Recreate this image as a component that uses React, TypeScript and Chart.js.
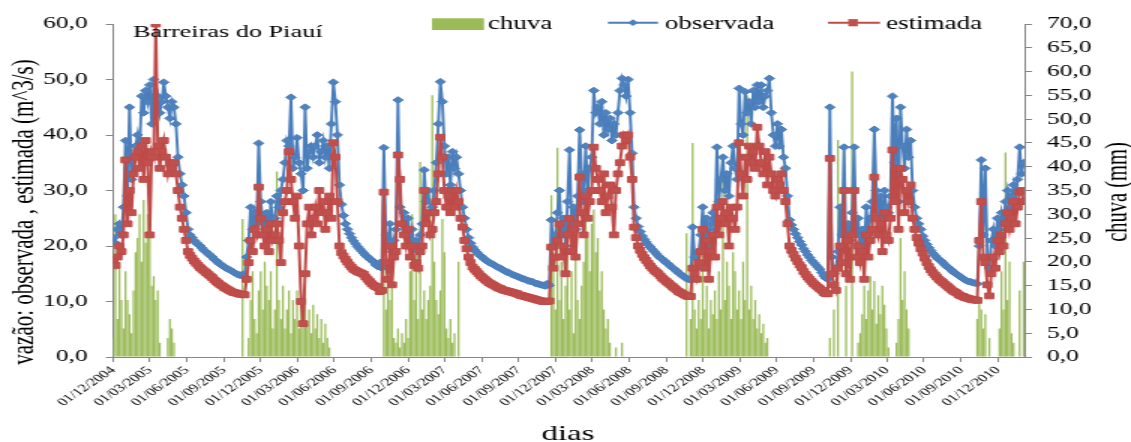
import React, { useEffect, useRef } from 'react';
import { Chart, registerables } from 'chart.js';

Chart.register(...registerables);

// ---------------- data ----------------
const START_DATE = '2004-12-01';
const STEP_DAYS = 5; // one value every 5 days, starting at START_DATE
const X_MAX_DAYS = 2257;

const quarterLabels = [
  '01/12/2004', '01/03/2005', '01/06/2005', '01/09/2005',
  '01/12/2005', '01/03/2006', '01/06/2006', '01/09/2006',
  '01/12/2006', '01/03/2007', '01/06/2007', '01/09/2007',
  '01/12/2007', '01/03/2008', '01/06/2008', '01/09/2008',
  '01/12/2008', '01/03/2009', '01/06/2009', '01/09/2009',
  '01/12/2009', '01/03/2010', '01/06/2010', '01/09/2010',
  '01/12/2010',
];

const seriesNames = ['chuva', 'observada', 'estimada'];
const placeName = 'Barreiras do Piauí';
const yTitle = 'vazão: observada , estimada (m^3/s)';
const y1Title = 'chuva (mm)';
const xTitle = 'dias';

const observada = [
  21.5, 20.5, 23, 24, 22, 27, 39, 29, 45, 32,
  36, 38, 40, 37, 47, 44, 48, 46, 49, 42,
  50, 45, 47, 44, 46, 49.5, 47, 45, 43, 46,
  45, 42, 36, 33, 31, 29, 26, 23, 22, 21.5,
  21, 20.6, 20.3, 20, 19.6, 19.2, 18.9, 18.6, 18.3, 18,
  17.6, 17.3, 17.0, 16.7, 16.5, 16.2, 16.0, 15.8, 15.6, 15.4,
  15.2, 15.0, 14.8, 14.7, 14.9, 14.5, 18, 21, 27, 23,
  26, 24, 38.5, 28, 25, 23, 26, 22, 28, 24,
  25, 29, 27, 30, 32, 35, 39, 38, 46.8, 34,
  36, 39.5, 35, 33, 30, 45, 34, 37, 38, 36,
  38, 40, 35, 37, 39, 36, 38, 34, 42, 49.5,
  46, 40, 31, 27.5, 25.5, 24, 23, 22.2, 21.5, 20.9,
  20.4, 19.9, 19.5, 19.1, 18.7, 18.3, 18.0, 17.7, 17.4, 17.1,
  16.6, 16.3, 17, 16, 37.7, 22, 20, 24, 19, 21,
  23, 46.3, 27, 24, 26, 22, 25, 21, 23, 20,
  21, 19, 22, 24, 33.7, 28, 30, 26, 27, 30,
  35, 42, 49.6, 46, 38, 33, 36, 31, 37, 34,
  36, 33, 30, 27, 25, 23, 21.5, 20.5, 19.8, 19.3,
  18.9, 18.5, 18.2, 17.9, 17.6, 17.3, 17.1, 16.9, 16.7, 16.5,
  16.3, 16.1, 15.9, 15.7, 15.5, 15.3, 15.2, 15.0, 14.8, 14.7,
  14.5, 14.4, 14.2, 14.1, 14.0, 13.8, 13.7, 13.6, 13.5, 13.3,
  13.2, 13.1, 13.0, 12.9, 12.8, 13.2, 12.9, 24.7, 20, 22,
  26, 30, 22, 25, 20, 28, 37.3, 24, 27, 23,
  29, 40.9, 33, 28, 38, 30, 34, 36, 48, 44,
  45, 42, 46, 40, 44, 41, 43, 39, 42, 40,
  44, 48, 50.2, 49, 47, 50, 44, 36.7, 27, 25,
  23.5, 22.6, 21.8, 21.2, 20.7, 20.2, 19.8, 19.4, 19.0, 18.6,
  18.2, 17.9, 17.6, 17.3, 17.0, 16.7, 16.4, 16.1, 15.8, 15.5,
  15.2, 14.9, 14.6, 14.4, 14.1, 14.0, 13.9, 23.4, 18, 16,
  19, 22, 27, 21, 25, 20, 24, 26, 23, 37.8,
  28, 32, 36, 30, 33, 29, 35, 38, 34, 32,
  48.4, 42, 40, 47.8, 44, 46, 42, 48, 45, 49,
  46, 49, 45, 47, 48, 50.2, 44, 40, 38, 42,
  38, 41, 36, 34, 29, 24.7, 23.8, 23, 22.2, 21.5,
  20.8, 20.2, 19.5, 19.0, 18.4, 17.9, 17.4, 17.0, 16.6, 16.2,
  15.8, 15.2, 14.6, 14.2, 14.0, 45, 18, 15, 16, 19,
  27, 22, 37.8, 19, 24, 21, 26, 37.8, 22, 25,
  20, 23, 19, 27, 22, 25, 28, 41, 30, 26,
  29, 25, 30, 27, 26, 29, 47, 35, 43, 28,
  45, 38, 34, 41, 36, 39, 30, 27, 25, 24,
  23, 21.8, 21, 20.3, 19.7, 19.2, 18.7, 18.3, 17.9, 17.6,
  17.3, 17.0, 16.6, 16.3, 16.0, 15.7, 15.4, 15.1, 14.9, 14.6,
  14.4, 14.1, 13.9, 13.7, 13.6, 13.5, 13.4, 13.3, 13.2, 20,
  35.5, 22, 34, 18, 16, 21, 23, 20, 25, 23,
  26, 24, 28, 30, 27, 29, 31, 28, 32, 37.8,
  33, 35,
];

const estimada = [
  17.5, 16.5, 18, 20, 19, 22, 35.5, 24, 30, 26,
  33, 36, 37, 34, 38, 32, 39, 35, 22, 37,
  36, 60, 38, 34, 37, 39, 36, 33, 35, 34,
  35, 33, 30, 27, 25, 23, 21, 19, 18.3, 17.8,
  17.3, 16.9, 16.5, 16.1, 15.8, 15.5, 15.2, 14.9, 14.6, 14.3,
  13.9, 13.6, 13.3, 13.0, 12.8, 12.5, 12.3, 12.1, 11.9, 11.7,
  11.6, 11.5, 11.4, 11.3, 11.3, 11.2, 14, 17, 21, 19,
  23, 22, 30.6, 25, 22, 20, 23, 19, 24, 21,
  22, 24, 21, 17, 26, 28, 30, 37, 32, 28,
  25, 29, 20, 10, 6, 15, 24, 27, 22, 25,
  27, 24, 30, 26, 28, 23, 26, 29, 25, 38.6,
  36, 28, 20, 18.8, 18.2, 17.6, 17.1, 16.6, 16.2, 15.8,
  15.6, 15.4, 15.2, 15.1, 14.9, 14.4, 14.0, 13.6, 13.2, 12.9,
  12.7, 12.5, 11.8, 12, 29.7, 17, 14, 20, 13, 18,
  19, 36.4, 32, 24, 22, 20, 23, 18, 20, 16.5,
  17, 16, 19, 20, 30, 24, 26, 22, 23, 26,
  28, 33, 39.6, 36, 30, 27, 29, 26, 30, 27,
  30, 28, 25, 23.4, 21, 19.5, 18, 17, 16.2, 15.8,
  15.4, 15.0, 14.6, 14.3, 14.0, 13.7, 13.4, 13.2, 13.0, 12.8,
  12.6, 12.4, 12.3, 12.1, 12.0, 11.9, 11.8, 11.7, 11.6, 11.5,
  11.4, 11.2, 11.1, 11.0, 10.9, 10.8, 10.7, 10.6, 10.5, 10.4,
  10.3, 10.2, 10.1, 10.0, 10.0, 10.0, 10.1, 19.8, 16, 18,
  21, 24, 18, 20, 15, 22, 25, 19, 23, 18,
  24, 32.4, 26, 22, 29, 25, 28, 30, 37.8, 34,
  32, 30, 28, 33, 26, 29, 31, 27, 22, 30,
  33, 35, 38, 40, 39, 40, 36, 32, 23.4, 21.5,
  20, 19.2, 18.5, 17.9, 17.4, 16.9, 16.4, 16.0, 15.6, 15.3,
  15.0, 14.6, 14.2, 13.9, 13.6, 13.3, 13.0, 12.7, 12.4, 12.1,
  11.8, 11.6, 11.4, 11.2, 11.0, 10.9, 10.9, 16, 15, 14,
  17, 19, 23, 16, 21, 14, 19, 22, 18, 27,
  22, 25, 28, 24, 26, 20, 27, 25, 23, 27,
  38.6, 33, 29, 36, 32, 38, 35, 37, 34, 41.4,
  38, 35, 33, 37, 31, 36, 33, 30, 29, 32,
  31, 33, 30, 28, 24, 20, 19.2, 18.5, 17.8, 17.2,
  16.6, 16.1, 15.4, 14.9, 14.4, 14.0, 13.6, 13.2, 12.9, 12.6,
  12.3, 12.0, 11.6, 11.4, 11.4, 35.8, 15, 13, 12, 16,
  20, 17, 30, 15, 21, 14, 22, 30, 18, 20,
  17, 19, 14, 22, 18, 21, 23, 32.4, 25, 22,
  24, 19, 26, 22, 21, 25, 37.3, 28, 34, 23,
  34, 32, 26, 30, 28, 31, 25, 23, 21.5, 20.5,
  19.5, 18.7, 17.8, 17.0, 16.3, 15.7, 15.2, 14.8, 14.4, 14.0,
  13.7, 13.4, 13.1, 12.8, 12.5, 12.2, 11.9, 11.7, 11.5, 11.2,
  11.0, 10.9, 10.7, 10.6, 10.5, 10.4, 10.3, 10.3, 10.2, 21,
  28, 18, 17, 13, 11, 15, 18, 16, 21, 19,
  22, 20, 24, 26, 23, 25, 28, 24, 27, 29.7,
  30, 28,
];

const chuva = [
  4, 30, 8, 20, 12, 6, 18, 12, 9, 5,
  14, 22, 25, 30, 20, 33, 24, 30, 35, 15,
  17, 12, 14, 3, 0, 0, 0, 4, 8, 6,
  3, 0, 0, 0, 0, 0, 0, 0, 0, 0,
  0, 0, 0, 0, 0, 0, 0, 0, 0, 0,
  0, 0, 0, 0, 0, 0, 0, 0, 0, 0,
  0, 0, 0, 0, 29, 0, 0, 4, 12, 18,
  8, 5, 14, 18, 10, 20, 15, 12, 18, 6,
  10, 39, 12, 8, 15, 6, 10, 14, 5, 12,
  8, 14, 6, 12, 9, 15, 7, 10, 5, 11,
  6, 9, 4, 8, 3, 7, 4, 2, 0, 0,
  0, 0, 0, 0, 0, 0, 0, 0, 0, 0,
  0, 0, 0, 0, 0, 0, 0, 0, 0, 0,
  0, 0, 0, 0, 25, 10, 20, 12, 18, 4,
  3, 6, 2, 5, 3, 8, 4, 18, 30, 12,
  22, 8, 41, 10, 14, 8, 12, 15, 55, 20,
  12, 9, 14, 29, 22, 6, 4, 8, 3, 5,
  0, 20, 0, 0, 0, 0, 0, 0, 0, 0,
  0, 0, 0, 0, 0, 0, 0, 0, 0, 0,
  0, 0, 0, 0, 0, 0, 0, 0, 0, 0,
  0, 0, 0, 0, 0, 0, 0, 0, 0, 0,
  0, 0, 0, 0, 0, 0, 0, 34, 18, 10,
  44, 12, 20, 8, 15, 25, 10, 18, 5, 22,
  12, 8, 15, 20, 30, 25, 18, 28, 31, 22,
  25, 14, 18, 10, 6, 8, 3, 0, 0, 2,
  0, 0, 3, 0, 0, 0, 0, 0, 0, 0,
  0, 0, 0, 0, 0, 0, 0, 0, 0, 0,
  0, 0, 0, 0, 0, 0, 0, 0, 0, 0,
  0, 0, 0, 0, 26, 0, 8, 45, 10, 6,
  12, 8, 30, 10, 15, 6, 12, 9, 14, 8,
  18, 10, 41, 12, 20, 15, 8, 22, 18, 10,
  14, 8, 20, 12, 55, 10, 15, 8, 12, 6,
  9, 5, 7, 3, 4, 0, 0, 0, 0, 0,
  0, 0, 0, 0, 0, 0, 0, 0, 0, 0,
  0, 0, 0, 0, 0, 0, 0, 0, 0, 0,
  0, 0, 0, 0, 0, 4, 0, 10, 0, 45.6,
  0, 0, 0, 15, 0, 0, 60, 0, 0, 3,
  5, 9, 15, 8, 14, 17, 10, 16, 7, 13,
  9, 15, 11, 6, 2, 0, 0, 0, 3, 8,
  25, 12, 18, 10, 6, 0, 0, 0, 0, 0,
  0, 0, 0, 0, 0, 0, 0, 0, 0, 0,
  0, 0, 0, 0, 0, 0, 0, 0, 0, 0,
  0, 0, 0, 0, 0, 0, 0, 0, 8, 12,
  10, 6, 9, 0, 4, 0, 0, 0, 0, 6,
  18, 10, 43, 12, 20, 5, 3, 0, 0, 14,
  0, 20,
];

// ---------------- styles ----------------
const FONT = "'Liberation Serif', 'Times New Roman', Times, serif";
const RAIN_COLOR = '#9BBB59';
const OBS_LINE = '#4A7EBB';
const OBS_FILL = '#4F81BD';
const EST_LINE = '#BE4B48';
const EST_FILL = '#C0504D';
const AXIS_COLOR = '#868686';
// canvas drawn at 2/3 width and stretched horizontally (the reference is a stretched picture)
const CANVAS_W = 754;
const CANVAS_H = 442;
const PAGE_W = 1131;

const fmt = (v: number) => Number(v).toFixed(1).replace('.', ',');

const parseDay = (s: string) => {
  const [d, m, y] = s.split('/').map(Number);
  return Date.UTC(y, m - 1, d);
};
const startMs = Date.parse(START_DATE + 'T00:00:00Z');
const quarterDays = quarterLabels.map((s) => Math.round((parseDay(s) - startMs) / 86400000));
const dayOf = (i: number) => i * STEP_DAYS;

const decorPlugin = {
  id: 'decor',
  afterDraw(chart: any) {
    const ctx: CanvasRenderingContext2D = chart.ctx;
    ctx.save();
    ctx.fillStyle = '#000';
    ctx.textAlign = 'left';
    ctx.textBaseline = 'alphabetic';
    ctx.font = `17.5px ${FONT}`;
    ctx.fillText(placeName, 88.7, 37.3);

    // legend
    ctx.font = `18px ${FONT}`;
    ctx.fillStyle = RAIN_COLOR;
    ctx.fillRect(288, 18.3, 34.7, 11.7);
    ctx.fillStyle = '#000';
    ctx.fillText(seriesNames[0], 325.3, 29.3);

    const ly = 22.7;
    ctx.lineWidth = 1.9;
    ctx.strokeStyle = OBS_LINE;
    ctx.beginPath();
    ctx.moveTo(405.3, ly);
    ctx.lineTo(438.7, ly);
    ctx.stroke();
    ctx.fillStyle = OBS_FILL;
    ctx.beginPath();
    ctx.moveTo(422 - 3.4, ly);
    ctx.lineTo(422, ly - 3.4);
    ctx.lineTo(422 + 3.4, ly);
    ctx.lineTo(422, ly + 3.4);
    ctx.closePath();
    ctx.fill();
    ctx.fillStyle = '#000';
    ctx.fillText(seriesNames[1], 443.3, 29.3);

    ctx.strokeStyle = EST_LINE;
    ctx.beginPath();
    ctx.moveTo(552, ly);
    ctx.lineTo(586.7, ly);
    ctx.stroke();
    ctx.fillStyle = EST_FILL;
    ctx.fillRect(568.7 - 3.2, ly - 3.6, 6.4, 7.2);
    ctx.fillStyle = '#000';
    ctx.fillText(seriesNames[2], 590.7, 29.3);

    // axis titles
    ctx.textAlign = 'center';
    ctx.textBaseline = 'middle';
    ctx.font = `21px ${FONT}`;
    ctx.save();
    ctx.translate(16.7, 212);
    ctx.rotate(-Math.PI / 2);
    ctx.fillText(yTitle, 0, 0);
    ctx.restore();
    ctx.font = `20.5px ${FONT}`;
    ctx.save();
    ctx.translate(745.3, 192);
    ctx.rotate(-Math.PI / 2);
    ctx.fillText(y1Title, 0, 0);
    ctx.restore();

    ctx.font = `22px ${FONT}`;
    ctx.textBaseline = 'alphabetic';
    ctx.fillText(xTitle, 378.7, 440);
    ctx.restore();
  },
};

export default function App() {
  const ref = useRef<HTMLCanvasElement | null>(null);

  useEffect(() => {
    const canvas = ref.current;
    if (!canvas) return;
    const chart = new Chart(canvas, {
      type: 'bar',
      data: {
        datasets: [
          {
            type: 'bar',
            label: seriesNames[0],
            data: chuva.map((v, i) => ({ x: dayOf(i), y: v })),
            yAxisID: 'y1',
            xAxisID: 'x',
            backgroundColor: RAIN_COLOR,
            borderWidth: 0,
            barPercentage: 0.95,
            categoryPercentage: 1,
            order: 3,
          } as any,
          {
            type: 'line',
            label: seriesNames[1],
            data: observada.map((v, i) => ({ x: dayOf(i), y: v })),
            yAxisID: 'y',
            xAxisID: 'x',
            borderColor: OBS_LINE,
            backgroundColor: OBS_FILL,
            borderWidth: 1.9,
            tension: 0,
            pointStyle: 'rectRot',
            pointRadius: 3.4,
            pointBackgroundColor: OBS_FILL,
            pointBorderColor: OBS_LINE,
            pointBorderWidth: 1,
            order: 2,
          } as any,
          {
            type: 'line',
            label: seriesNames[2],
            data: estimada.map((v, i) => ({ x: dayOf(i), y: v })),
            yAxisID: 'y',
            xAxisID: 'x',
            borderColor: EST_LINE,
            backgroundColor: EST_FILL,
            borderWidth: 2,
            tension: 0,
            pointStyle: 'rect',
            pointRadius: 4.1,
            pointBackgroundColor: EST_FILL,
            pointBorderColor: EST_LINE,
            pointBorderWidth: 1,
            order: 1,
          } as any,
        ],
      },
      options: {
        animation: false,
        responsive: false,
        devicePixelRatio: 1,
        events: [],
        layout: { padding: { left: 0, right: 0, top: 24, bottom: 0 } },
        plugins: {
          legend: { display: false },
          tooltip: { enabled: false },
          title: { display: false },
        },
        scales: {
          x: {
            type: 'linear',
            min: 0,
            max: X_MAX_DAYS,
            bounds: 'data',
            offset: false,
            afterBuildTicks: (scale: any) => {
              scale.ticks = quarterDays.map((v) => ({ value: v }));
            },
            afterFit: (scale: any) => {
              scale.height = CANVAS_H - 357;
            },
            ticks: {
              autoSkip: false,
              maxRotation: 45,
              minRotation: 45,
              padding: 2,
              color: '#000',
              font: { family: FONT, size: 11 },
              callback: (_v: any, i: number) => quarterLabels[i],
            },
            grid: {
              drawOnChartArea: false,
              drawTicks: true,
              tickLength: 5,
              color: AXIS_COLOR,
              offset: false,
            },
            border: { display: true, color: AXIS_COLOR, width: 1 },
          },
          y: {
            type: 'linear',
            position: 'left',
            min: 0,
            max: 60,
            afterFit: (scale: any) => {
              scale.width = 75.6;
            },
            ticks: {
              stepSize: 10,
              autoSkip: false,
              padding: 12,
              color: '#000',
              font: { family: FONT, size: 17 },
              callback: (v: any) => fmt(v),
            },
            grid: { drawOnChartArea: false, drawTicks: true, tickLength: 5, color: AXIS_COLOR },
            border: { display: true, color: AXIS_COLOR, width: 1 },
          },
          y1: {
            type: 'linear',
            position: 'right',
            min: 0,
            max: 70,
            afterFit: (scale: any) => {
              scale.width = CANVAS_W - 683;
            },
            ticks: {
              stepSize: 5,
              autoSkip: false,
              padding: 10,
              color: '#000',
              font: { family: FONT, size: 17 },
              callback: (v: any) => fmt(v),
            },
            grid: { drawOnChartArea: false, drawTicks: true, tickLength: 5, color: AXIS_COLOR },
            border: { display: true, color: AXIS_COLOR, width: 1 },
          },
        },
      } as any,
      plugins: [decorPlugin],
    });
    return () => chart.destroy();
  }, []);

  return (
    <canvas
      ref={ref}
      width={CANVAS_W}
      height={CANVAS_H}
      style={{
        position: 'fixed',
        left: 0,
        top: 0,
        width: `${PAGE_W}px`,
        height: `${CANVAS_H}px`,
        display: 'block',
        background: '#fff',
      }}
    />
  );
}
